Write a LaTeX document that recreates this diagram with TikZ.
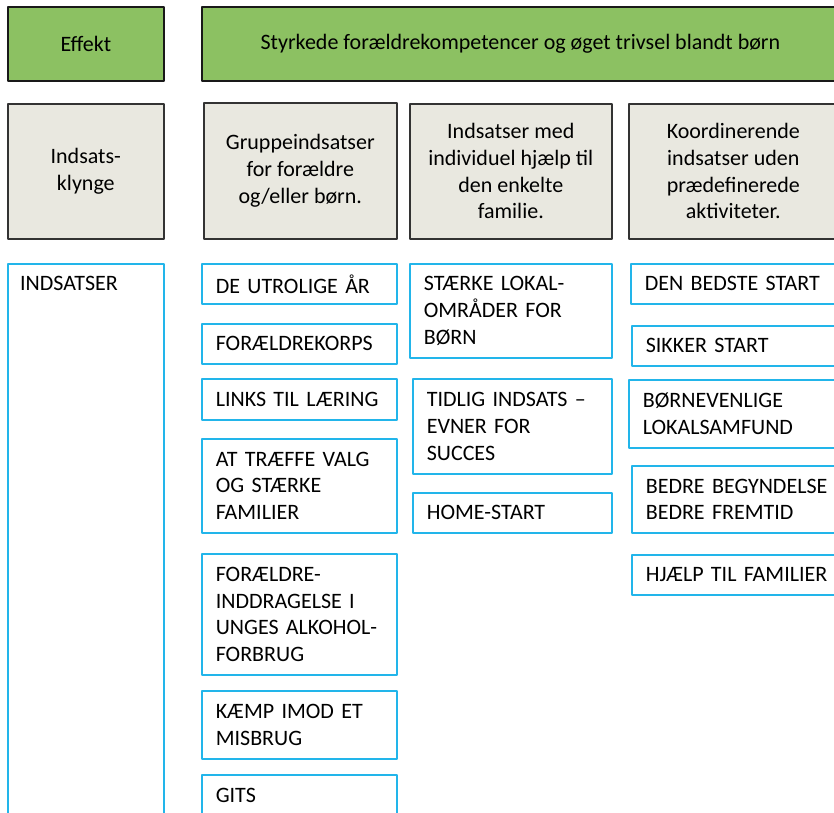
\documentclass[tikz,border=0pt]{standalone}
\usepackage{fontspec}
\setmainfont{Carlito}
\definecolor{effektgreen}{RGB}{140,193,98}
\definecolor{klyngegrey}{RGB}{233,232,224}
\definecolor{indsatsblue}{RGB}{34,181,234}
\begin{document}
\begin{tikzpicture}[x=1pt,y=-1pt,line join=round,
		font=\fontsize{22}{26.7}\selectfont,
		effekt/.style={draw=black!90,line width=1.8pt,fill=effektgreen,anchor=north west,inner sep=0pt},
		klynge/.style={draw=black!80,line width=1.6pt,fill=klyngegrey,anchor=north west,inner sep=0pt,align=center},
		indsats/.style={draw=indsatsblue,line width=1.6pt,anchor=north west,inner xsep=14pt,inner ysep=0pt,align=left}]
	\useasboundingbox (0,0) rectangle (834,812);
	\clip (0,0) rectangle (834,812);
	% effekt
	\node[effekt,minimum width=156pt,minimum height=74pt] (effekt) at (7,6) {Effekt};
	\node[effekt,minimum width=637pt,minimum height=74pt] (maal) at (201,6) {Styrkede forældrekompetencer og øget trivsel blandt børn};
	% indsatsklynger
	\node[klynge,minimum width=156pt,minimum height=135pt] (klynge) at (7,103) {Indsats-\\klynge};
	\node[klynge,minimum width=193pt,minimum height=136pt] (gruppe) at (203,102) {Gruppeindsatser\\for forældre\\og/eller børn.};
	\node[klynge,minimum width=202pt,minimum height=135pt] (individ) at (409,103) {Indsatser med\\individuel hjælp til\\den enkelte\\familie.};
	\node[klynge,minimum width=209pt,minimum height=135pt] (koord) at (628,103) {Koordinerende\\indsatser uden\\prædefinerede\\aktiviteter.};
	% indsatser
	\node[indsats,minimum width=156pt,minimum height=560pt] (indsatser) at (7,263) {};
	\node[anchor=base west,inner sep=0pt] (indsatsertxt) at (20,290) {INDSATSER};
	% gruppeindsatser
	\node[indsats,text width=167pt,minimum height=40pt] (utrolige) at (201,263) {DE UTROLIGE ÅR};
	\node[indsats,text width=167pt,minimum height=40pt] (korps) at (201,323) {FORÆLDREKORPS};
	\node[indsats,text width=167pt,minimum height=41pt] (links) at (201,378) {LINKS TIL LÆRING};
	\node[indsats,text width=167pt,minimum height=94pt] (traeffe) at (201,438) {AT TRÆFFE VALG\\OG STÆRKE\\FAMILIER};
	\node[indsats,text width=167pt,minimum height=121pt] (inddragelse) at (201,553) {FORÆLDRE-\\INDDRAGELSE I\\UNGES ALKOHOL-\\FORBRUG};
	\node[indsats,text width=167pt,minimum height=68pt] (kaemp) at (201,690) {KÆMP IMOD ET\\MISBRUG};
	\node[indsats,text width=167pt,minimum height=42pt] (gits) at (201,774) {GITS};
	% individuelle indsatser
	\node[indsats,text width=174pt,minimum height=94pt] (lokal) at (409,263) {STÆRKE LOKAL-\\OMRÅDER FOR\\BØRN};
	\node[indsats,text width=171pt,minimum height=95pt] (tidlig) at (412,378) {TIDLIG INDSATS –\\EVNER FOR\\SUCCES};
	\node[indsats,text width=171pt,minimum height=40pt] (home) at (412,492) {HOME-START};
	% koordinerende indsatser
	\node[indsats,text width=186pt,minimum height=40pt] (bedste) at (630,263) {DEN BEDSTE START};
	\node[indsats,text width=185pt,minimum height=40pt] (sikker) at (631,325) {SIKKER START};
	\node[indsats,text width=188pt,minimum height=68pt] (venlige) at (628,379) {BØRNEVENLIGE\\LOKALSAMFUND};
	\node[indsats,text width=185pt,minimum height=67pt] (bedre) at (631,465) {BEDRE BEGYNDELSE\\BEDRE FREMTID};
	\node[indsats,text width=185pt,minimum height=40pt] (hjaelp) at (631,554) {HJÆLP TIL FAMILIER};
\end{tikzpicture}
\end{document}
